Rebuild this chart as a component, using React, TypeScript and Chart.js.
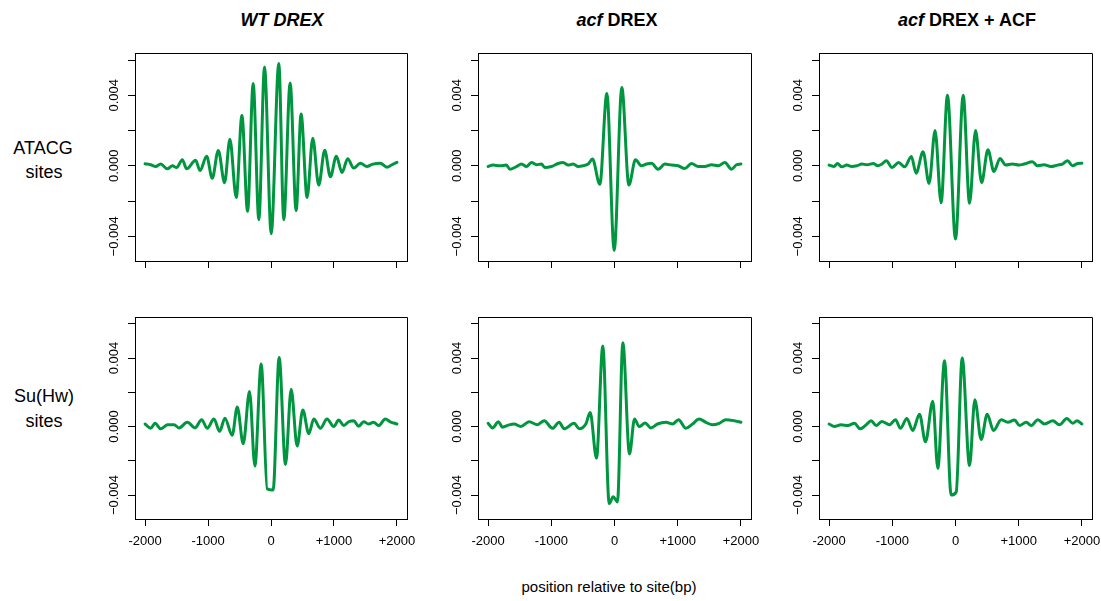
import React, { useEffect, useRef } from 'react';
import { Chart, registerables } from 'chart.js';

Chart.register(...registerables);

// ---------- data ----------
const columnTitles = ['WT DREX', 'acf DREX', 'acf DREX + ACF'];
const rowLabels = [['ATACG', 'sites'], ['Su(Hw)', 'sites']];
const xAxisTitle = 'position relative to site(bp)';

const xTickValues = [-2000, -1000, 0, 1000, 2000];
const xTickLabels = ['-2000', '-1000', '0', '+1000', '+2000'];
const yTickValues = [-0.004, -0.002, 0, 0.002, 0.004, 0.006];
const yTickLabels = ['\u22120.004', '', '0.000', '', '0.004', ''];

// WT DREX, ATACG sites
const wtAtacgX = [-2000, -1910, -1831, -1752, -1646, -1567, -1498, -1408, -1340, -1197, -1128, -1022, -933, -837, -737, -653, -552, -462, -372, -283, -193, -103, 3, 124, 203, 304, 399, 478, 573, 663, 758, 853, 943, 1038, 1128, 1218, 1313, 1419, 1524, 1604, 1736, 1841, 1921, 2000];
const wtAtacgY = [0.00012, 0.00006, -0.00004, 0.0001, -0.00017, 0, -0.0001, 0.00035, -0.00017, 0.00031, -0.00027, 0.00054, -0.00071, 0.00087, -0.00096, 0.0015, -0.0018, 0.00285, -0.00258, 0.00467, -0.00306, 0.0056, -0.00385, 0.0058, -0.00306, 0.0047, -0.00254, 0.00294, -0.0018, 0.00156, -0.0011, 0.00088, -0.00062, 0.00054, -0.00038, 0.0004, -0.00013, 0.00015, -0.00004, 0.00008, 0.00015, -0.00008, 0.00006, 0.0002];

// acf DREX, ATACG sites
const acfAtacgX = [-2000, -1921, -1815, -1710, -1657, -1551, -1472, -1393, -1314, -1235, -1156, -1103, -997, -892, -813, -734, -654, -575, -496, -417, -348, -232, -121, -5, 116, 227, 332, 427, 507, 586, 691, 797, 902, 1008, 1113, 1219, 1324, 1430, 1535, 1641, 1747, 1852, 1931, 2000];
const acfAtacgY = [-0.00004, 0.00004, 0, 0.00004, -0.00019, -0.00004, 0.0001, -0.00004, 0.00019, 0.00006, 0.0001, -0.0001, -0.00004, 0.00013, 0.00019, 0.00004, 0.0001, -0.00004, 0, 0.0001, 0.00038, -0.00105, 0.0041, -0.0048, 0.00444, -0.00109, 0.00034, 0, 0.0001, 0.00015, -0.0002, 0.0001, 0.00004, 0, -0.00015, 0.00013, -0.00004, -0.00004, 0.00006, 0, 0.00019, -0.00019, 0.00006, 0.0001];

// acf DREX + ACF, ATACG sites
const acfAcfAtacgX = [-2000, -1921, -1868, -1799, -1720, -1640, -1561, -1481, -1402, -1296, -1233, -1164, -1095, -1005, -899, -804, -698, -624, -513, -418, -323, -228, -127, 0, 122, 222, 317, 413, 513, 608, 704, 794, 899, 1005, 1085, 1217, 1296, 1402, 1508, 1614, 1693, 1773, 1852, 1931, 2000];
const acfAcfAtacgY = [0.00004, -0.00004, 0.00013, -0.00006, 0.00004, -0.00004, 0, 0.0001, 0.00006, 0.00013, 0, 0.0001, 0.00029, -0.0001, 0.00019, -0.00006, 0.00053, -0.00042, 0.0008, -0.001, 0.002, -0.0021, 0.004, -0.00415, 0.004, -0.00213, 0.002, -0.00095, 0.00091, -0.00032, 0.00042, 0.00004, 0.0001, 0.00004, 0.0001, 0.00023, 0, 0.00006, -0.00004, 0.00004, 0.0001, 0.00029, 0, 0.00013, 0.00015];

// WT DREX, Su(Hw) sites
const wtSuhwX = [-2000, -1910, -1841, -1752, -1646, -1540, -1461, -1329, -1207, -1102, -1012, -906, -816, -732, -616, -536, -441, -341, -256, -156, -61, 34, 129, 230, 320, 415, 505, 600, 679, 785, 890, 996, 1075, 1155, 1234, 1313, 1392, 1472, 1551, 1630, 1709, 1815, 1894, 2000];
const wtSuhwY = [0.00015, -0.0001, 0.00019, -0.00013, 0.0001, 0.00011, -0.00008, 0.00025, -0.00008, 0.0004, -0.0001, 0.00044, -0.00028, 0.00049, -0.00051, 0.00114, -0.001, 0.00205, -0.00231, 0.00366, -0.00364, -0.0037, 0.00404, -0.00222, 0.00218, -0.00114, 0.00097, -0.00042, 0.00044, -0.0001, 0.00044, 0, 0.00038, 0.00006, 0.00028, 0.00034, 0.00002, 0.00028, 0.00015, 0.00025, 0.00006, 0.00044, 0.00028, 0.00015];

// acf DREX, Su(Hw) sites
const acfSuhwX = [-2000, -1931, -1836, -1773, -1668, -1588, -1483, -1351, -1219, -1113, -982, -876, -797, -639, -559, -454, -385, -285, -185, -84, -21, 47, 132, 237, 317, 390, 485, 575, 681, 813, 918, 1013, 1129, 1235, 1340, 1446, 1551, 1657, 1762, 1894, 2000];
const acfSuhwY = [0.00019, -0.00008, 0.00028, -0.00004, 0.0001, 0.00015, 0, 0.00028, 0.00011, 0.00034, -0.0001, 0.00025, -0.00013, 0.00019, -0.00013, 0.00015, 0.00082, -0.00184, 0.0047, -0.0045, -0.0041, -0.0044, 0.0049, -0.0016, 0.00044, 0, 0.00021, -0.00008, 0.00015, 0.00025, 0.00015, 0.0004, -0.0001, 0.00015, 0.00044, 0.00025, 0.0001, 0.00019, 0.0004, 0.00034, 0.00025];

// acf DREX + ACF, Su(Hw) sites
const acfAcfSuhwX = [-2000, -1916, -1810, -1704, -1599, -1509, -1414, -1335, -1256, -1166, -1045, -950, -871, -770, -676, -570, -475, -359, -280, -174, -69, 11, 106, 222, 306, 406, 501, 602, 723, 828, 934, 1013, 1119, 1198, 1303, 1409, 1541, 1646, 1762, 1857, 1921, 2000];
const acfAcfSuhwY = [0.00015, 0, 0.0001, 0.00006, 0.00019, -0.00013, 0.0001, 0.00034, 0.00006, 0.0003, 0.00011, 0.0004, -0.0001, 0.00047, -0.00023, 0.00072, -0.00089, 0.00148, -0.00245, 0.00385, -0.004, -0.00383, 0.004, -0.00228, 0.00157, -0.00076, 0.00072, -0.00023, 0.0004, 0.00025, 0.00038, 0.00006, 0.00025, 0.00006, 0.0004, 0.00015, 0.00034, 0.0001, 0.00047, 0.00019, 0.00034, 0.00015];

// ---------- style / layout ----------
const FONT = '"Liberation Sans", Arial, Helvetica, sans-serif';
const GREEN = 'rgb(0,150,64)';
const X_MIN = -2160;
const X_MAX = 2160;
const Y_MIN = -0.0054;
const Y_MAX = 0.0064;

const COLS = [
  { L: 135, R: 407 },
  { L: 478, R: 751 },
  { L: 819, R: 1092 },
];
const ROWS = [
  { T: 53, B: 261 },
  { T: 317, B: 527 },
];

const TICK = 7;
const PL = 32;
const PR = 20;
const PT = 4;
const XLABEL_PAD = 8;
const XLABEL_H = 13 * 1.2;

function align(v: number) {
  return Math.round(v - 0.5) + 0.5;
}

const framePlugin = {
  id: 'rframe',
  afterDraw(chart: any) {
    const { ctx, chartArea } = chart;
    const yScale = chart.scales.y;
    ctx.save();
    ctx.strokeStyle = '#000';
    ctx.lineWidth = 1;
    ctx.beginPath();
    const l = align(chartArea.left);
    const r = align(chartArea.right);
    const t = align(chartArea.top);
    const b = align(chartArea.bottom);
    ctx.moveTo(l, t);
    ctx.lineTo(r, t);
    ctx.lineTo(r, b);
    ctx.stroke();
    // rotated y labels
    ctx.fillStyle = '#000';
    ctx.font = `13px ${FONT}`;
    ctx.textAlign = 'center';
    ctx.textBaseline = 'middle';
    yTickValues.forEach((v, i) => {
      const label = yTickLabels[i];
      if (!label) return;
      const y = yScale.getPixelForValue(v);
      ctx.save();
      ctx.translate(chartArea.left - 21, y);
      ctx.rotate(-Math.PI / 2);
      ctx.fillText(label, 0, 0);
      ctx.restore();
    });
    ctx.restore();
  },
};

type PanelProps = {
  xs: number[];
  ys: number[];
  col: number;
  row: number;
};

function Panel({ xs, ys, col, row }: PanelProps) {
  const ref = useRef<HTMLCanvasElement>(null);
  const showX = row === 1;
  const box = { ...COLS[col], ...ROWS[row] };
  const xAxisH = showX ? TICK + XLABEL_PAD + XLABEL_H : TICK;
  const left = box.L - TICK - PL;
  const width = box.R - box.L + TICK + PL + PR;
  const top = box.T - PT;
  const height = Math.ceil(box.B - box.T + PT + xAxisH + 4);
  const pb = height - (box.B - box.T + PT + xAxisH);

  useEffect(() => {
    if (!ref.current) return;
    const chart = new Chart(ref.current, {
      type: 'line',
      data: {
        datasets: [
          {
            data: xs.map((x, i) => ({ x, y: ys[i] })),
            borderColor: GREEN,
            borderWidth: 3,
            pointRadius: 0,
            fill: false,
            cubicInterpolationMode: 'monotone',
            borderJoinStyle: 'round',
            borderCapStyle: 'round',
          } as any,
        ],
      },
      options: {
        animation: false,
        responsive: false,
        devicePixelRatio: 1,
        events: [],
        layout: { padding: { left: PL, right: PR, top: PT, bottom: pb } },
        plugins: {
          legend: { display: false },
          tooltip: { enabled: false },
        },
        scales: {
          x: {
            type: 'linear',
            min: X_MIN,
            max: X_MAX,
            afterBuildTicks: (s: any) => {
              s.ticks = xTickValues.map((v) => ({ value: v }));
            },
            grid: {
              drawOnChartArea: false,
              drawTicks: true,
              tickLength: TICK,
              color: '#000',
              lineWidth: 1,
            },
            border: { display: true, color: '#000', width: 1 },
            ticks: {
              display: showX,
              padding: XLABEL_PAD,
              autoSkip: false,
              maxRotation: 0,
              minRotation: 0,
              color: '#000',
              font: { family: FONT, size: 13 },
              callback: (_v: any, i: number) => xTickLabels[i],
            },
          },
          y: {
            type: 'linear',
            min: Y_MIN,
            max: Y_MAX,
            afterBuildTicks: (s: any) => {
              s.ticks = yTickValues.map((v) => ({ value: v }));
            },
            grid: {
              drawOnChartArea: false,
              drawTicks: true,
              tickLength: TICK,
              color: '#000',
              lineWidth: 1,
            },
            border: { display: true, color: '#000', width: 1 },
            ticks: { display: false },
          },
        },
      } as any,
      plugins: [framePlugin],
    });
    return () => chart.destroy();
  }, []);

  return (
    <canvas
      ref={ref}
      width={width}
      height={height}
      style={{ position: 'absolute', left, top, width, height }}
    />
  );
}

const titleCenters = [282, 617, 967];

function TextLine({ cx, baseline, size, children, weight }: any) {
  const lh = size;
  const top = baseline - (lh - size * 1.117) / 2 - size * 0.905;
  return (
    <div
      style={{
        position: 'absolute',
        left: cx - 200,
        width: 400,
        top,
        height: lh,
        lineHeight: `${lh}px`,
        fontSize: size,
        fontFamily: FONT,
        fontWeight: weight || 'normal',
        textAlign: 'center',
        color: '#000',
        whiteSpace: 'nowrap',
      }}
    >
      {children}
    </div>
  );
}

export default function App() {
  const panels = [
    { xs: wtAtacgX, ys: wtAtacgY, col: 0, row: 0 },
    { xs: acfAtacgX, ys: acfAtacgY, col: 1, row: 0 },
    { xs: acfAcfAtacgX, ys: acfAcfAtacgY, col: 2, row: 0 },
    { xs: wtSuhwX, ys: wtSuhwY, col: 0, row: 1 },
    { xs: acfSuhwX, ys: acfSuhwY, col: 1, row: 1 },
    { xs: acfAcfSuhwX, ys: acfAcfSuhwY, col: 2, row: 1 },
  ];
  return (
    <div
      style={{
        position: 'fixed',
        left: 0,
        top: 0,
        width: 1101,
        height: 601,
        background: '#fff',
        overflow: 'hidden',
      }}
    >
      <TextLine cx={titleCenters[0]} baseline={26} size={18} weight="bold">
        <i>{columnTitles[0]}</i>
      </TextLine>
      <TextLine cx={titleCenters[1]} baseline={26} size={18} weight="bold">
        <i>{columnTitles[1].split(' ')[0]}</i>
        {' ' + columnTitles[1].split(' ').slice(1).join(' ')}
      </TextLine>
      <TextLine cx={titleCenters[2]} baseline={26} size={18} weight="bold">
        <i>{columnTitles[2].split(' ')[0]}</i>
        {' ' + columnTitles[2].split(' ').slice(1).join(' ')}
      </TextLine>

      <TextLine cx={43} baseline={154} size={18}>{rowLabels[0][0]}</TextLine>
      <TextLine cx={44} baseline={178} size={18}>{rowLabels[0][1]}</TextLine>
      <TextLine cx={44} baseline={402} size={18}>{rowLabels[1][0]}</TextLine>
      <TextLine cx={44} baseline={427} size={18}>{rowLabels[1][1]}</TextLine>

      <TextLine cx={609} baseline={592} size={15}>{xAxisTitle}</TextLine>

      {panels.map((p, i) => (
        <Panel key={i} xs={p.xs} ys={p.ys} col={p.col} row={p.row} />
      ))}
    </div>
  );
}
